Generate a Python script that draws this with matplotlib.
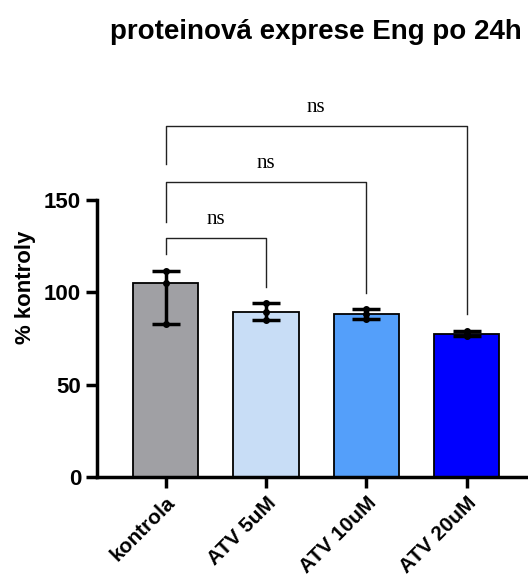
import matplotlib.pyplot as plt
import numpy as np

plt.rcParams['font.family'] = ['Liberation Sans', 'DejaVu Sans']

groups = ['kontrola', 'ATV 5uM', 'ATV 10uM', 'ATV 20uM']
points = [[111.7, 105.3, 82.8],
          [94.2, 89.5, 85.2],
          [90.8, 88.1, 85.5],
          [79.0, 77.6, 76.6]]
colors = ['#A0A0A4', '#C8DDF6', '#549FFA', '#0000FF']

# brackets: (start, end, height, left leg bottom, right leg bottom, label)
brackets = [(0, 1, 129.2, 120.7, 102.7, 'ns'),
            (0, 2, 159.9, 138.2, 99.8, 'ns'),
            (0, 3, 190.0, 169.3, 88.3, 'ns')]

fig = plt.figure(figsize=(5.28, 5.77), dpi=100)
ax = fig.add_axes([0.1837, 0.1733, 0.818, 0.656])

x = np.arange(len(groups))
med = [np.median(p) for p in points]
lo = [np.median(p) - min(p) for p in points]
hi = [max(p) - np.median(p) for p in points]

ax.bar(x, med, width=0.65, color=colors, edgecolor='black', linewidth=1.3, zorder=2)
ax.errorbar(x, med, yerr=[lo, hi], fmt='none', ecolor='black', elinewidth=2.5,
            capsize=10, capthick=2.5, zorder=3)
for i, p in enumerate(points):
    ax.plot([x[i]] * len(p), p, 'o', color='black', markersize=4, zorder=4)

for a, b, h, l1, l2, lab in brackets:
    ax.plot([a, a, b, b], [l1, h, h, l2], color='#222222', lw=1, clip_on=False)
    ax.text((a + b) / 2, h + 10, lab, ha='center', va='center',
            family='Liberation Serif', fontsize=15)

ax.set_xlim(-0.685, 3.62)
ax.set_ylim(0, 205)
ax.set_yticks([0, 50, 100, 150])
ax.spines['left'].set_bounds(0, 150)
ax.spines['top'].set_visible(False)
ax.spines['right'].set_visible(False)
for s in ['left', 'bottom']:
    ax.spines[s].set_linewidth(2.5)
ax.tick_params(width=2.5, length=8)
ax.set_xticks(x)
ax.set_xticklabels(groups, rotation=45, ha='right', rotation_mode='anchor',
                   fontsize=15, fontweight='bold')
for t in ax.get_yticklabels():
    t.set_fontsize(16)
    t.set_fontweight('bold')
ax.set_ylabel('% kontroly', fontsize=16, fontweight='bold', labelpad=6)

fig.text(0.598, 0.945, 'proteinová exprese Eng po 24h', ha='center', va='center',
         fontsize=20, fontweight='bold')

fig.savefig('out.png', dpi=100)
